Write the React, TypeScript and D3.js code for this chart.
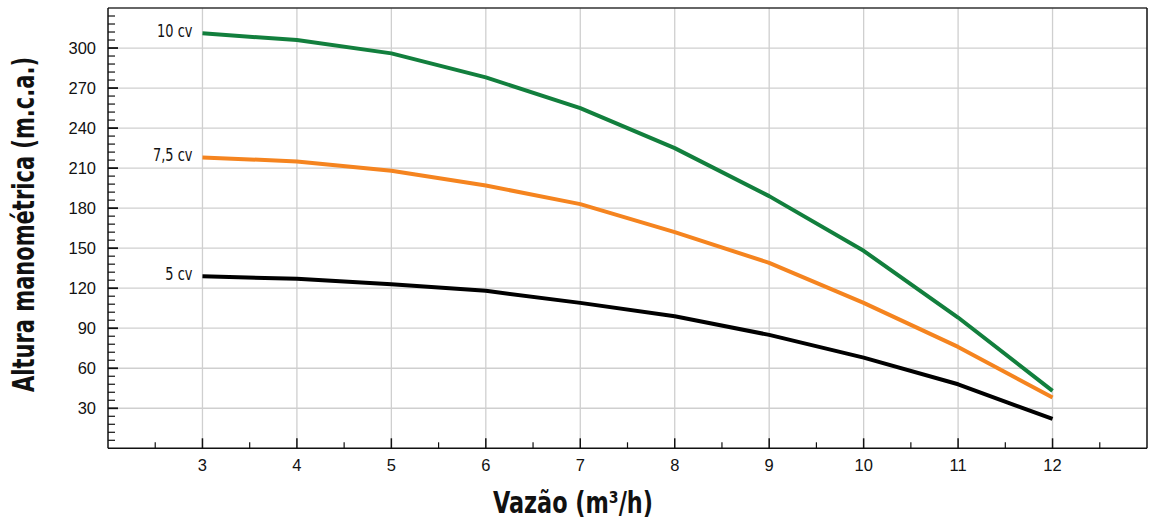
import React from "react";
import * as d3 from "d3";

const flows = [3, 4, 5, 6, 7, 8, 9, 10, 11, 12];
const head10 = [311, 306, 296, 278, 255, 225, 189, 148, 98, 43];
const head75 = [218, 215, 208, 197, 183, 162, 139, 109, 76, 38];
const head5 = [129, 127, 123, 118, 109, 99, 85, 68, 48, 22];
const seriesNames = ["10 cv", "7,5 cv", "5 cv"];
const seriesColors = ["#127f3d", "#f5841f", "#000000"];
const xTicks = [3, 4, 5, 6, 7, 8, 9, 10, 11, 12];
const yTicks = [30, 60, 90, 120, 150, 180, 210, 240, 270, 300];
const xTitle = "Vazão (m³/h)";
const yTitle = "Altura manométrica (m.c.a.)";

const W = 1155;
const H = 524;
const M = { left: 108, top: 8, right: 1147, bottom: 448.3 };

export default function App() {
  const x = d3.scaleLinear().domain([2, 13]).range([M.left, M.right]);
  const y = d3.scaleLinear().domain([0, 330]).range([M.bottom, M.top]);
  const line = d3
    .line<[number, number]>()
    .x((d) => x(d[0]))
    .y((d) => y(d[1]));
  const all = [head10, head75, head5];
  const yMinor = d3.range(6, 330, 6).filter((v) => v % 30 !== 0);
  const xMinor = d3.range(2.5, 13, 1);
  const tickFont = "'Liberation Sans', Arial, sans-serif";
  const narrow = "'DejaVu Sans Condensed', 'DejaVu Sans', sans-serif";

  return (
    <svg
      width={W}
      height={H}
      style={{ position: "absolute", left: 0, top: 0, background: "#fff" }}
    >
      {/* grid */}
      {xTicks.map((t) => (
        <line
          key={"gx" + t}
          x1={x(t)}
          x2={x(t)}
          y1={M.top}
          y2={M.bottom}
          stroke="#cfcfcf"
          strokeWidth={1.3}
        />
      ))}
      {yTicks.map((t) => (
        <line
          key={"gy" + t}
          x1={M.left}
          x2={M.right}
          y1={y(t)}
          y2={y(t)}
          stroke="#cfcfcf"
          strokeWidth={1.3}
        />
      ))}
      {/* frame */}
      <line x1={M.left} x2={M.right} y1={M.top} y2={M.top} stroke="#333" strokeWidth={1.5} />
      <line x1={M.right} x2={M.right} y1={M.top} y2={M.bottom} stroke="#111" strokeWidth={1.5} />
      <line x1={M.left} x2={M.left} y1={M.top} y2={M.bottom} stroke="#111" strokeWidth={1.5} />
      <line x1={M.left} x2={M.right} y1={M.bottom} y2={M.bottom} stroke="#111" strokeWidth={1.5} />
      {/* y ticks */}
      {yTicks.map((t) => (
        <line
          key={"ty" + t}
          x1={M.left}
          x2={M.left + 10}
          y1={y(t)}
          y2={y(t)}
          stroke="#111"
          strokeWidth={1.8}
        />
      ))}
      {yMinor.map((t) => (
        <line
          key={"tym" + t}
          x1={M.left}
          x2={M.left + 7}
          y1={y(t)}
          y2={y(t)}
          stroke="#111"
          strokeWidth={1.2}
        />
      ))}
      {/* x ticks */}
      {xTicks.map((t) => (
        <line
          key={"tx" + t}
          x1={x(t)}
          x2={x(t)}
          y1={M.bottom}
          y2={M.bottom - 10}
          stroke="#111"
          strokeWidth={1.5}
        />
      ))}
      {xMinor.map((t) => (
        <line
          key={"txm" + t}
          x1={x(t)}
          x2={x(t)}
          y1={M.bottom}
          y2={M.bottom - 6}
          stroke="#111"
          strokeWidth={1.2}
        />
      ))}
      {/* tick labels */}
      {yTicks.map((t) => (
        <text
          key={"ly" + t}
          x={M.left - 12}
          y={y(t) + 6}
          textAnchor="end"
          fontFamily={tickFont}
          fontSize={16.5}
          fill="#111"
        >
          {t}
        </text>
      ))}
      {xTicks.map((t) => (
        <text
          key={"lx" + t}
          x={x(t)}
          y={471}
          textAnchor="middle"
          fontFamily={tickFont}
          fontSize={16.5}
          fill="#111"
        >
          {t}
        </text>
      ))}
      {/* lines */}
      {all.map((vals, i) => (
        <path
          key={"s" + i}
          d={line(flows.map((f, j) => [f, vals[j]] as [number, number])) || ""}
          fill="none"
          stroke={seriesColors[i]}
          strokeWidth={4}
          strokeLinejoin="round"
        />
      ))}
      {/* series labels */}
      {all.map((vals, i) => (
        <text
          key={"sl" + i}
          transform={`translate(${x(flows[0]) - 10}, ${y(vals[0]) + 3.5}) scale(0.8, 1)`}
          textAnchor="end"
          fontFamily={narrow}
          fontSize={18}
          fill="#111"
        >
          {seriesNames[i]}
        </text>
      ))}
      {/* axis titles */}
      <text
        x={573}
        y={513}
        textAnchor="middle"
        fontFamily={narrow}
        fontWeight="bold"
        fontSize={30}
        textLength={160}
        lengthAdjust="spacingAndGlyphs"
        fill="#111"
      >
        {xTitle}
      </text>
      <text
        transform={`translate(34, 224.5) rotate(-90)`}
        textAnchor="middle"
        fontFamily={narrow}
        fontWeight="bold"
        fontSize={30}
        textLength={335}
        lengthAdjust="spacingAndGlyphs"
        fill="#111"
      >
        {yTitle}
      </text>
    </svg>
  );
}
